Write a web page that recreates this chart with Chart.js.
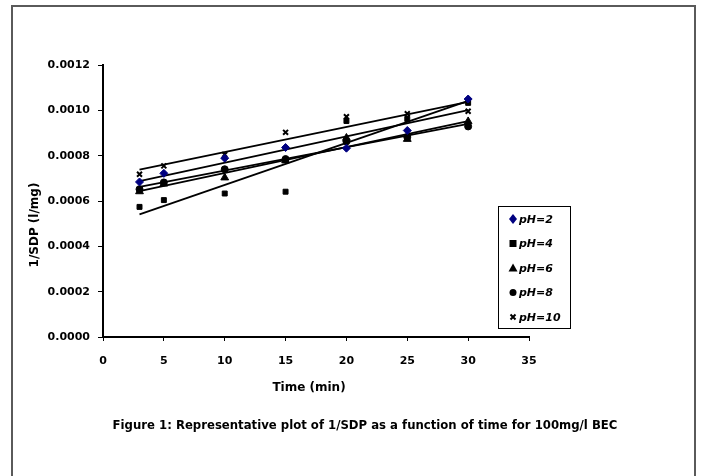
<!DOCTYPE html>
<html>
<head>
<meta charset="utf-8">
<script src="https://cdn.jsdelivr.net/npm/chart.js@4/dist/chart.umd.min.js"></script>
<style>
  html, body { margin: 0; padding: 0; background: #fff; }
  #wrap { width: 702px; height: 476px; position: relative; }
</style>
</head>
<body>
<div id="wrap"><canvas id="chart" width="702" height="476"></canvas></div>
<script>
// sampling times (min)
var times = [3, 5, 10, 15, 20, 25, 30];

// 1/SDP (l/mg)
var ph2  = [0.000684, 0.000722, 0.000789, 0.000836, 0.000833, 0.000911, 0.001050];
var ph4  = [0.000574, 0.000604, 0.000633, 0.000641, 0.000953, 0.000962, 0.001033];
var ph6  = [0.000642, 0.000676, 0.000703, 0.000778, 0.000878, 0.000873, 0.000951];
var ph8  = [0.000652, 0.000682, 0.000740, 0.000785, 0.000863, 0.000882, 0.000929];
var ph10 = [0.000718, 0.000755, 0.000805, 0.000903, 0.000972, 0.000985, 0.000996];

var seriesLabels = ['pH=2', 'pH=4', 'pH=6', 'pH=8', 'pH=10'];
var xTicks = [0, 5, 10, 15, 20, 25, 30, 35];

var FONT = "'DejaVu Sans', sans-serif";

var markers = [
    { style: 'rectRot', radius: 4, fill: '#000080', border: '#000080', bw: 1 },
    { style: 'rect', radius: 3.5, fill: '#000', border: '#000', bw: 1 },
    { style: 'triangle', radius: 4.5, fill: '#000', border: '#000', bw: 1 },
    { style: 'circle', radius: 3.5, fill: '#000', border: '#000', bw: 1 },
    { style: 'crossRot', radius: 3.5, fill: '#000', border: '#000', bw: 2 }
];

// least squares trendline, drawn between first and last sample time
function trend(ys) {
    var n = times.length, sx = 0, sy = 0, sxx = 0, sxy = 0;
    for (var i = 0; i < n; i++) {
        sx += times[i]; sy += ys[i];
        sxx += times[i] * times[i]; sxy += times[i] * ys[i];
    }
    var b = (n * sxy - sx * sy) / (n * sxx - sx * sx);
    var a = (sy - b * sx) / n;
    var x0 = times[0], x1 = times[n - 1];
    return [{ x: x0, y: a + b * x0 }, { x: x1, y: a + b * x1 }];
}

var allSeries = [ph2, ph4, ph6, ph8, ph10];
var datasets = [];
allSeries.forEach(function (ys, k) {
    datasets.push({
        label: seriesLabels[k] + ' trend',
        data: trend(ys),
        showLine: true,
        borderColor: '#000',
        borderWidth: 1.8,
        pointRadius: 0,
        order: 2
    });
});
allSeries.forEach(function (ys, k) {
    var m = markers[k];
    datasets.push({
        label: seriesLabels[k],
        data: times.map(function (t, i) { return { x: t, y: ys[i] }; }),
        showLine: false,
        pointStyle: m.style,
        pointRadius: m.radius,
        pointBackgroundColor: m.fill,
        pointBorderColor: m.border,
        pointBorderWidth: m.bw,
        order: 1
    });
});

function drawMarker(ctx, m, x, y) {
    ctx.save();
    ctx.fillStyle = m.fill;
    ctx.strokeStyle = m.border;
    ctx.lineWidth = m.bw;
    var r = m.radius;
    ctx.beginPath();
    if (m.style === 'rectRot') {
        ctx.moveTo(x, y - r - 1); ctx.lineTo(x + r, y); ctx.lineTo(x, y + r + 1); ctx.lineTo(x - r, y);
        ctx.closePath(); ctx.fill();
    } else if (m.style === 'rect') {
        ctx.rect(x - r, y - r, 2 * r, 2 * r); ctx.fill();
    } else if (m.style === 'triangle') {
        ctx.moveTo(x, y - r); ctx.lineTo(x + r, y + r * 0.8); ctx.lineTo(x - r, y + r * 0.8);
        ctx.closePath(); ctx.fill();
    } else if (m.style === 'circle') {
        ctx.arc(x, y, r, 0, Math.PI * 2); ctx.fill();
    } else {
        r = 2.5;
        ctx.moveTo(x - r, y - r); ctx.lineTo(x + r, y + r);
        ctx.moveTo(x + r, y - r); ctx.lineTo(x - r, y + r);
        ctx.stroke();
    }
    ctx.restore();
}

var decor = {
    id: 'decor',
    afterDraw: function (chart) {
        var ctx = chart.ctx;
        ctx.save();
        // outer frame
        ctx.strokeStyle = '#5a5a5a';
        ctx.lineWidth = 2;
        ctx.beginPath();
        ctx.moveTo(12, 480); ctx.lineTo(12, 6); ctx.lineTo(695, 6); ctx.lineTo(695, 480);
        ctx.stroke();

        // axis titles
        ctx.fillStyle = '#000';
        ctx.font = 'bold 12px ' + FONT;
        ctx.textAlign = 'center';
        ctx.textBaseline = 'middle';
        ctx.fillText('Time (min)', 309, 388);
        ctx.save();
        ctx.translate(35, 225);
        ctx.rotate(-Math.PI / 2);
        ctx.fillText('1/SDP (l/mg)', 0, 0);
        ctx.restore();

        // caption
        ctx.font = 'bold 11.7px ' + FONT;
        ctx.fillText('Figure 1: Representative plot of 1/SDP as a function of time for 100mg/l BEC', 365, 426);

        // legend
        ctx.fillStyle = '#fff';
        ctx.fillRect(498.5, 206.5, 72, 122);
        ctx.strokeStyle = '#000';
        ctx.lineWidth = 1;
        ctx.strokeRect(498.5, 206.5, 72, 122);
        ctx.font = 'italic bold 11px ' + FONT;
        ctx.textAlign = 'left';
        seriesLabels.forEach(function (lab, k) {
            var y = 219 + k * 24.5;
            drawMarker(ctx, markers[k], 513, y);
            ctx.fillStyle = '#000';
            ctx.fillText(lab, 519, y + 1);
        });
        ctx.restore();
    }
};

new Chart(document.getElementById('chart').getContext('2d'), {
    type: 'scatter',
    data: { datasets: datasets },
    options: {
        responsive: false,
        animation: false,
        layout: { padding: { left: 0, right: 173, top: 65, bottom: 0 } },
        plugins: {
            legend: { display: false },
            tooltip: { enabled: false },
            title: { display: false }
        },
        scales: {
            x: {
                type: 'linear',
                min: 0,
                max: 35,
                afterBuildTicks: function (axis) {
                    axis.ticks = xTicks.map(function (v) { return { value: v }; });
                },
                afterFit: function (axis) { axis.height = 139; },
                border: { color: '#000', width: 2 },
                grid: { drawOnChartArea: false, drawTicks: true, tickLength: 4, color: '#000', lineWidth: 1 },
                ticks: {
                    color: '#000',
                    padding: 14,
                    maxRotation: 0,
                    font: { family: FONT, size: 11, weight: 'bold' }
                }
            },
            y: {
                type: 'linear',
                min: 0,
                max: 0.0012,
                afterFit: function (axis) { axis.width = 103; },
                border: { color: '#000', width: 2 },
                grid: { drawOnChartArea: false, drawTicks: true, tickLength: 5, color: '#000', lineWidth: 1 },
                ticks: {
                    stepSize: 0.0002,
                    color: '#000',
                    padding: 8,
                    font: { family: FONT, size: 11, weight: 'bold' },
                    callback: function (v) { return Number(v).toFixed(4); }
                }
            }
        }
    },
    plugins: [decor]
});
</script>
</body>
</html>
